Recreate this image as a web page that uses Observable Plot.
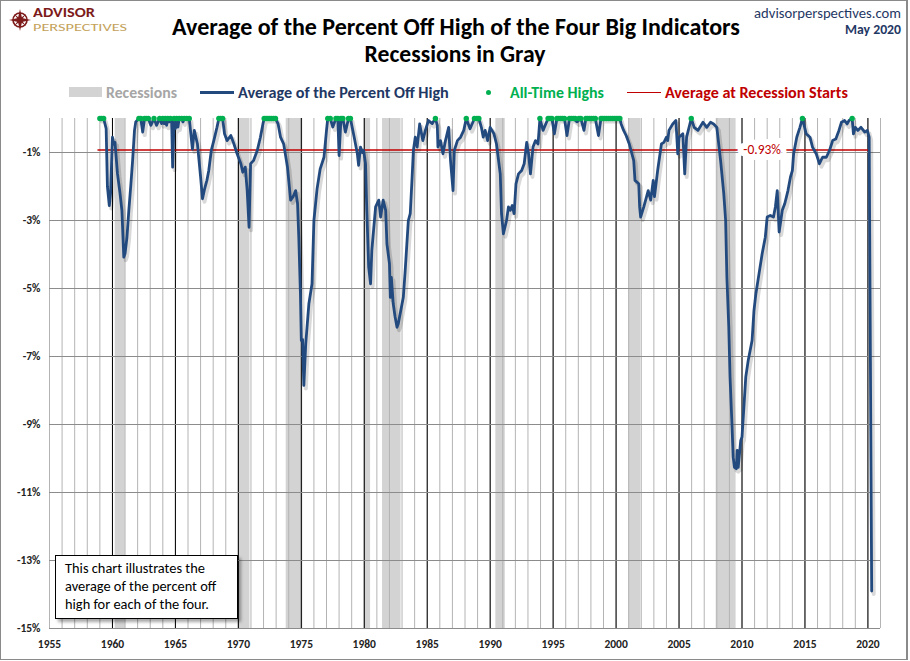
<!DOCTYPE html>
<html>
<head>
<meta charset="utf-8">
<script src="https://cdn.jsdelivr.net/npm/d3@7"></script>
<script src="https://cdn.jsdelivr.net/npm/@observablehq/plot@0.6"></script>
<style>
  html, body { margin: 0; padding: 0; background: #fff; }
  #wrap { position: relative; width: 910px; height: 661px; overflow: hidden; font-family: Carlito, Calibri, Lato, sans-serif; }
  #wrap svg.plot { position: absolute; left: 0; top: 0; }
  .abs { position: absolute; white-space: nowrap; line-height: 1; }
  .tight { line-height: 0.78; }
  .logo { line-height: 1.2; transform-origin: left top; }
  #frame { position: absolute; left: 0; top: 0; width: 908px; height: 660px; box-sizing: border-box; border: 1px solid #8a8a8a; border-right-width: 2px; pointer-events: none; }
  .lg { font-weight: bold; font-size: 13px; }
  #note { position: absolute; left: 55px; top: 555px; width: 183px; height: 64px; box-sizing: border-box; border: 1px solid #000; background: #fff; box-shadow: 3px 3px 3px rgba(0,0,0,0.35); font-size: 14.4px; line-height: 18px; padding: 3px 0 0 9px; color: #000; }
  #chart svg [aria-label$="tick label"] text { font-weight: bold; }
</style>
</head>
<body>
<div id="wrap">
  <div id="chart"></div>
  <svg class="abs" style="left:0;top:0" width="40" height="40" viewBox="0 0 40 40">
    <circle cx="20" cy="20" r="7" fill="none" stroke="#7d1b1b" stroke-width="1.6"/>
    <polygon points="20,9 22,18 31,20 22,22 20,31 18,22 9,20 18,18" fill="#7d1b1b"/>
    <polygon points="14,14 20,18.5 26,14 21.5,20 26,26 20,21.5 14,26 18.5,20" fill="#7d1b1b"/>
  </svg>
  <div class="abs logo" id="logo1" style="left:33px;top:4.8px;font-size:13.5px;font-weight:bold;color:#7d1b1b;">ADVISOR</div>
  <div class="abs logo" id="logo2" style="left:33px;top:21.2px;font-size:11px;color:#c4a25a;">PERSPECTIVES</div>
  <div class="abs" id="t1" style="left:456px;top:15px;font-size:22px;font-weight:bold;color:#000;transform:translateX(-50%);">Average of the Percent Off High of the Four Big Indicators</div>
  <div class="abs" id="t2" style="left:455px;top:42px;font-size:22px;font-weight:bold;color:#000;transform:translateX(-50%);">Recessions in Gray</div>
  <div class="abs tight" id="s1" style="right:9px;top:8px;font-size:14px;color:#1f3864;">advisorperspectives.com</div>
  <div class="abs tight" id="s2" style="right:9px;top:25px;font-size:13px;font-weight:bold;color:#1f3864;">May 2020</div>

  <div class="abs" style="left:69px;top:87px;width:33px;height:10px;background:#d3d3d3;"></div>
  <div class="abs lg" id="lg1" style="left:106px;top:85px;color:#a6a6a6;">Recessions</div>
  <div class="abs" style="left:200px;top:90.5px;width:34px;height:3px;background:#234a7f;"></div>
  <div class="abs lg" id="lg2" style="left:238px;top:85px;color:#1f3864;">Average of the Percent Off High</div>
  <div class="abs" style="left:485.5px;top:89.5px;width:5px;height:5px;border-radius:50%;background:#00b050;"></div>
  <div class="abs lg" id="lg3" style="left:510px;top:85px;color:#00b050;">All-Time Highs</div>
  <div class="abs" style="left:627px;top:91.5px;width:34px;height:1.5px;background:#c00000;"></div>
  <div class="abs lg" id="lg4" style="left:665px;top:85px;color:#c00000;">Average at Recession Starts</div>

  <div id="note">This chart illustrates the<br>average of the percent off<br>high for each of the four.</div>
  <div id="frame"></div>
</div>
<script>
// ---- data ----
const dates = [
 1959.0,1959.15,1959.3,1959.5,1959.6,1959.75,1959.85,1960.0,1960.1,1960.2,1960.4,1960.6,1960.75,1960.9,1961.0,1961.15,1961.3,1961.45,1961.6,1961.75,1961.85,
 1962.1,1962.25,1962.4,1962.55,1962.7,1962.85,1963.05,1963.3,1963.5,1963.75,1963.9,1964.0,1964.1,1964.2,1964.3,1964.4,1964.5,1964.6,1964.7,1964.78,1964.9,
 1965.0,1965.1,1965.2,1965.3,1965.5,1965.6,1965.7,1965.9,1966.1,1966.35,1966.5,1966.75,1967.0,1967.15,1967.3,1967.5,1967.65,1967.85,1968.05,1968.3,1968.45,1968.6,1968.75,
 1968.9,1969.1,1969.4,1969.65,1969.9,1970.2,1970.35,1970.55,1970.7,1970.85,1970.97,1971.2,1971.5,1971.75,1971.95,1972.05,1972.2,1972.35,1972.5,1972.65,1972.8,1972.95,
 1973.15,1973.35,1973.6,1973.9,1974.15,1974.35,1974.55,1974.7,1974.8,1974.93,1975.0,1975.1,1975.2,1975.35,1975.6,1975.85,1976.0,1976.25,1976.5,1976.8,1977.0,
 1977.1,1977.3,1977.5,1977.75,1977.9,1978.0,1978.15,1978.3,1978.5,1978.75,1978.9,1979.2,1979.45,1979.55,1979.7,1979.85,1979.95,1980.1,1980.2,1980.35,1980.5,1980.6,
 1980.9,1981.15,1981.3,1981.5,1981.7,1981.8,1982.0,1982.07,1982.15,1982.3,1982.45,1982.6,1982.7,1982.9,1983.1,1983.25,1983.5,1983.65,1983.8,1983.9,1984.05,1984.2,
 1984.4,1984.65,1984.85,1985.1,1985.4,1985.65,1985.8,1985.85,1986.05,1986.25,1986.45,1986.7,1986.85,1987.05,1987.15,1987.4,1987.65,1987.9,1988.1,1988.4,1988.75,
 1988.95,1989.1,1989.3,1989.45,1989.6,1989.8,1990.0,1990.3,1990.5,1990.8,1990.9,1991.05,1991.3,1991.45,1991.6,1991.75,1991.9,1992.05,1992.25,1992.5,1992.7,1992.9,
 1993.05,1993.2,1993.4,1993.6,1993.8,1993.95,1994.2,1994.6,1994.75,1994.9,1995.1,1995.3,1995.6,1995.9,1996.1,1996.3,1996.6,1996.9,1997.2,1997.45,1997.6,1997.9,
 1998.2,1998.35,1998.6,1998.8,1999.1,1999.4,1999.7,2000.0,2000.3,2000.4,2000.6,2000.8,2001.05,2001.4,2001.5,2001.8,2001.87,2001.95,2002.2,2002.55,2002.75,2002.95,
 2003.05,2003.3,2003.45,2003.6,2003.8,2004.0,2004.1,2004.2,2004.5,2004.75,2004.9,2005.0,2005.3,2005.45,2005.6,2005.97,2006.2,2006.5,2006.9,2007.2,2007.5,2007.75,
 2008.0,2008.3,2008.55,2008.7,2008.8,2008.95,2009.05,2009.2,2009.3,2009.4,2009.55,2009.62,2009.7,2009.9,2010.0,2010.3,2010.5,2010.8,2010.95,2011.1,2011.35,2011.6,
 2011.85,2012.0,2012.25,2012.5,2012.65,2012.8,2012.95,2013.2,2013.4,2013.65,2013.85,2014.0,2014.1,2014.35,2014.6,2014.8,2015.1,2015.4,2015.6,2015.9,2016.15,2016.4,
 2016.7,2016.95,2017.2,2017.45,2017.7,2017.9,2018.15,2018.35,2018.5,2018.75,2018.85,2019.0,2019.2,2019.45,2019.75,2019.95,2020.1,2020.3
];
const values = [
 0,0,0,-0.3,-2.0,-2.56,-2.2,-0.55,-0.75,-0.7,-1.63,-2.2,-2.7,-4.08,-3.97,-3.5,-2.7,-2.0,-1.24,-0.35,-0.1,
 0,0,-0.4,0,0,0,-0.2,0,-0.2,0,-0.15,0,-0.15,0,-0.2,0,-0.1,0,-0.05,-1.43,0,
 -0.3,0,-0.25,0,0,-0.1,0,0,0,-0.9,-0.35,-0.75,-1.72,-2.36,-2.1,-1.82,-1.53,-0.94,-0.65,-0.26,0,0,0,
 -0.45,-0.65,-0.5,-0.75,-1.04,-1.33,-1.58,-1.43,-2.12,-3.2,-1.33,-1.24,-0.94,-0.55,-0.16,0,0,0,0,0,0,0,
 -0.15,-0.55,-0.75,-1.43,-2.4,-2.3,-2.12,-2.5,-3.5,-5.16,-6.53,-6.5,-7.85,-6.63,-5.45,-4.86,-3.0,-2.07,-1.48,-1.14,-0.35,
 0,0,-0.25,0,0,-1.09,0,0,-0.4,0,0,-0.55,-1.04,-1.38,-0.84,-1.0,-0.94,-1.33,-2.7,-4.37,-4.86,-3.88,
 -2.6,-2.4,-2.9,-2.4,-2.7,-3.69,-4.27,-5.26,-4.67,-5.45,-5.84,-6.14,-6.04,-5.65,-5.26,-4.47,-3.0,-2.8,-1.73,-0.94,-0.55,-0.84,
 -0.16,-0.65,-0.35,-0.06,-0.15,0,-0.2,-0.84,-0.65,-1.04,-0.65,-0.26,-1.24,-2.12,-0.94,-0.65,-0.55,-0.35,0,-0.3,0,
 0,0,-0.26,-0.55,-0.35,-0.65,-0.26,-0.45,-0.75,-1.63,-2.8,-3.39,-3.0,-2.6,-2.7,-2.56,-2.8,-1.92,-1.63,-1.53,-1.33,-0.7,
 -1.04,-1.63,-0.84,-0.65,-0.75,0,-0.35,0,0,0,-0.45,0,0,0,-0.5,0,0,-0.1,0,-0.35,0,0,
 0,0,-0.5,0,0,0,0,0,0,-0.16,-0.35,-0.5,-0.75,-1.24,-1.82,-1.92,-2.6,-2.9,-2.6,-2.12,-2.4,-1.82,
 -2.3,-1.53,-1.14,-0.75,-0.7,-0.55,-0.65,-0.35,-0.16,-0.06,-1.04,-0.55,-0.45,-1.63,-0.55,0,-0.26,-0.35,-0.11,-0.26,-0.11,-0.16,
 -0.26,-1.24,-2.2,-3.0,-4.67,-6.14,-7.6,-8.98,-9.96,-10.26,-10.3,-9.76,-10.26,-9.47,-9.37,-7.6,-7.1,-6.53,-5.65,-5.16,-4.57,-3.98,
 -3.49,-2.9,-2.85,-2.9,-2.6,-2.12,-3.34,-2.7,-2.5,-2.12,-1.72,-1.53,-1.04,-0.55,-0.26,0,-0.45,-0.55,-0.84,-1.04,-1.33,-1.14,
 -1.14,-0.94,-0.65,-0.6,-0.35,-0.11,-0.06,-0.16,-0.06,0,-0.45,-0.26,-0.35,-0.26,-0.4,-0.35,-0.55,-13.9
];
const athDates = [
 1959.0,1959.15,1959.3,
 1962.1,1962.25,1962.55,1962.7,1962.85,1963.3,1963.75,1964.0,1964.2,1964.4,1964.6,1964.9,1965.1,1965.3,1965.5,1965.7,1965.9,1966.1,
 1968.45,1968.6,1968.75,
 1972.05,1972.2,1972.35,1972.5,1972.65,1972.8,1972.95,
 1977.1,1977.3,1977.75,1977.9,1978.15,1978.3,1978.75,1978.9,
 1985.65,1988.1,1988.75,1988.95,1989.1,
 1993.95,1994.6,1994.75,1994.9,
 1995.3,1995.45,1995.6,1995.75,1995.9,1996.3,1996.45,1996.6,1996.75,1997.05,1997.2,1997.6,1997.75,1997.9,1998.05,1998.2,1998.35,
 1998.8,1998.95,1999.1,1999.25,1999.4,1999.55,1999.7,1999.85,2000.0,2000.15,2000.3,
 2005.97,2014.8,2018.75
];
const recStart = [1960.22, 1969.98, 1973.8, 1980.0, 1981.45, 1990.45, 2001.0, 2007.95];
const recEnd   = [1961.02, 1970.92, 1975.12, 1980.5, 1982.92, 1991.2, 2001.97, 2009.53];
const avgAtRecessionStarts = -0.93;
const xTickYears = [1955,1960,1965,1970,1975,1980,1985,1990,1995,2000,2005,2010,2015,2020];
const yTicks = [-1,-3,-5,-7,-9,-11,-13,-15];
const xDomain = [1955, 2021];
const yDomain = [-15, 0];

// ---- derived tables ----
const series = dates.map((d, i) => ({date: d, value: values[i]}));
const recessions = recStart.map((s, i) => ({start: s, end: recEnd[i]}));
const allYears = d3.range(xDomain[0], xDomain[1] + 1);
const majorYears = xTickYears.filter(y => y !== xDomain[0]);
const font = "Carlito, Calibri, Lato, sans-serif";

const chart = Plot.plot({
  width: 910,
  height: 661,
  marginTop: 118,
  marginBottom: 33,
  marginLeft: 49,
  marginRight: 30,
  x: {domain: xDomain},
  y: {domain: yDomain},
  style: {fontFamily: font, background: "transparent", overflow: "visible"},
  marks: [
    Plot.rect(recessions, {x1: "start", x2: "end", y1: yDomain[0], y2: yDomain[1], fill: "#d3d3d3"}),
    Plot.ruleX(allYears, {y1: yDomain[0], y2: yDomain[1], stroke: "#b4b4b4", strokeWidth: 1}),
    Plot.ruleX(majorYears, {y1: yDomain[0], y2: yDomain[1], stroke: "#000", strokeWidth: 1}),
    Plot.ruleY(yTicks, {x1: xDomain[0], x2: xDomain[1], stroke: "#8c8c8c", strokeWidth: 1.2}),
    Plot.ruleY([avgAtRecessionStarts], {x1: dates[0] - 0.15, x2: dates[dates.length - 1] - 0.15, stroke: "#c00000", strokeWidth: 1.5}),
    Plot.line(series, {x: "date", y: "value", stroke: "#000", strokeOpacity: 0.15, strokeWidth: 4, dx: 2, dy: 3}),
    Plot.line(series, {x: "date", y: "value", stroke: "#234a7f", strokeWidth: 2.8, strokeLinejoin: "round"}),
    Plot.dot(athDates, {x: d => d, y: 0, r: 2.7, fill: "#00b050", stroke: "none"}),
    Plot.text([avgAtRecessionStarts], {x: 2011.6, y: d => d, text: d => d.toFixed(2) + "%", fill: "#c00000", stroke: "#fff", strokeWidth: 12, fontSize: 13.5, paintOrder: "stroke"}),
    Plot.axisX({ticks: xTickYears, tickSize: 0, tickPadding: 11, tickFormat: d => String(d), fontWeight: "bold", fontSize: 11.5, color: "#222", label: null}),
    Plot.axisY({ticks: yTicks, tickSize: 0, tickPadding: 9, tickFormat: d => d + "%", fontWeight: "bold", fontSize: 11.5, color: "#222", label: null})
  ]
});
chart.classList.add("plot");
document.getElementById("chart").appendChild(chart);

// fit text widths to the reference layout
function fit(id, w) {
  const el = document.getElementById(id);
  const cur = el.getBoundingClientRect().width;
  const fs = parseFloat(getComputedStyle(el).fontSize);
  el.style.fontSize = (fs * w / cur) + "px";
}
function stretch(id, w) {
  const el = document.getElementById(id);
  const cur = el.getBoundingClientRect().width;
  el.style.transform = "scaleX(" + (w / cur) + ")";
}
fit("t1", 568); fit("t2", 181);
fit("lg1", 71); fit("lg2", 211); fit("lg3", 94); fit("lg4", 183);
fit("s1", 147); fit("s2", 56);
stretch("logo1", 62); stretch("logo2", 94);
</script>
</body>
</html>
